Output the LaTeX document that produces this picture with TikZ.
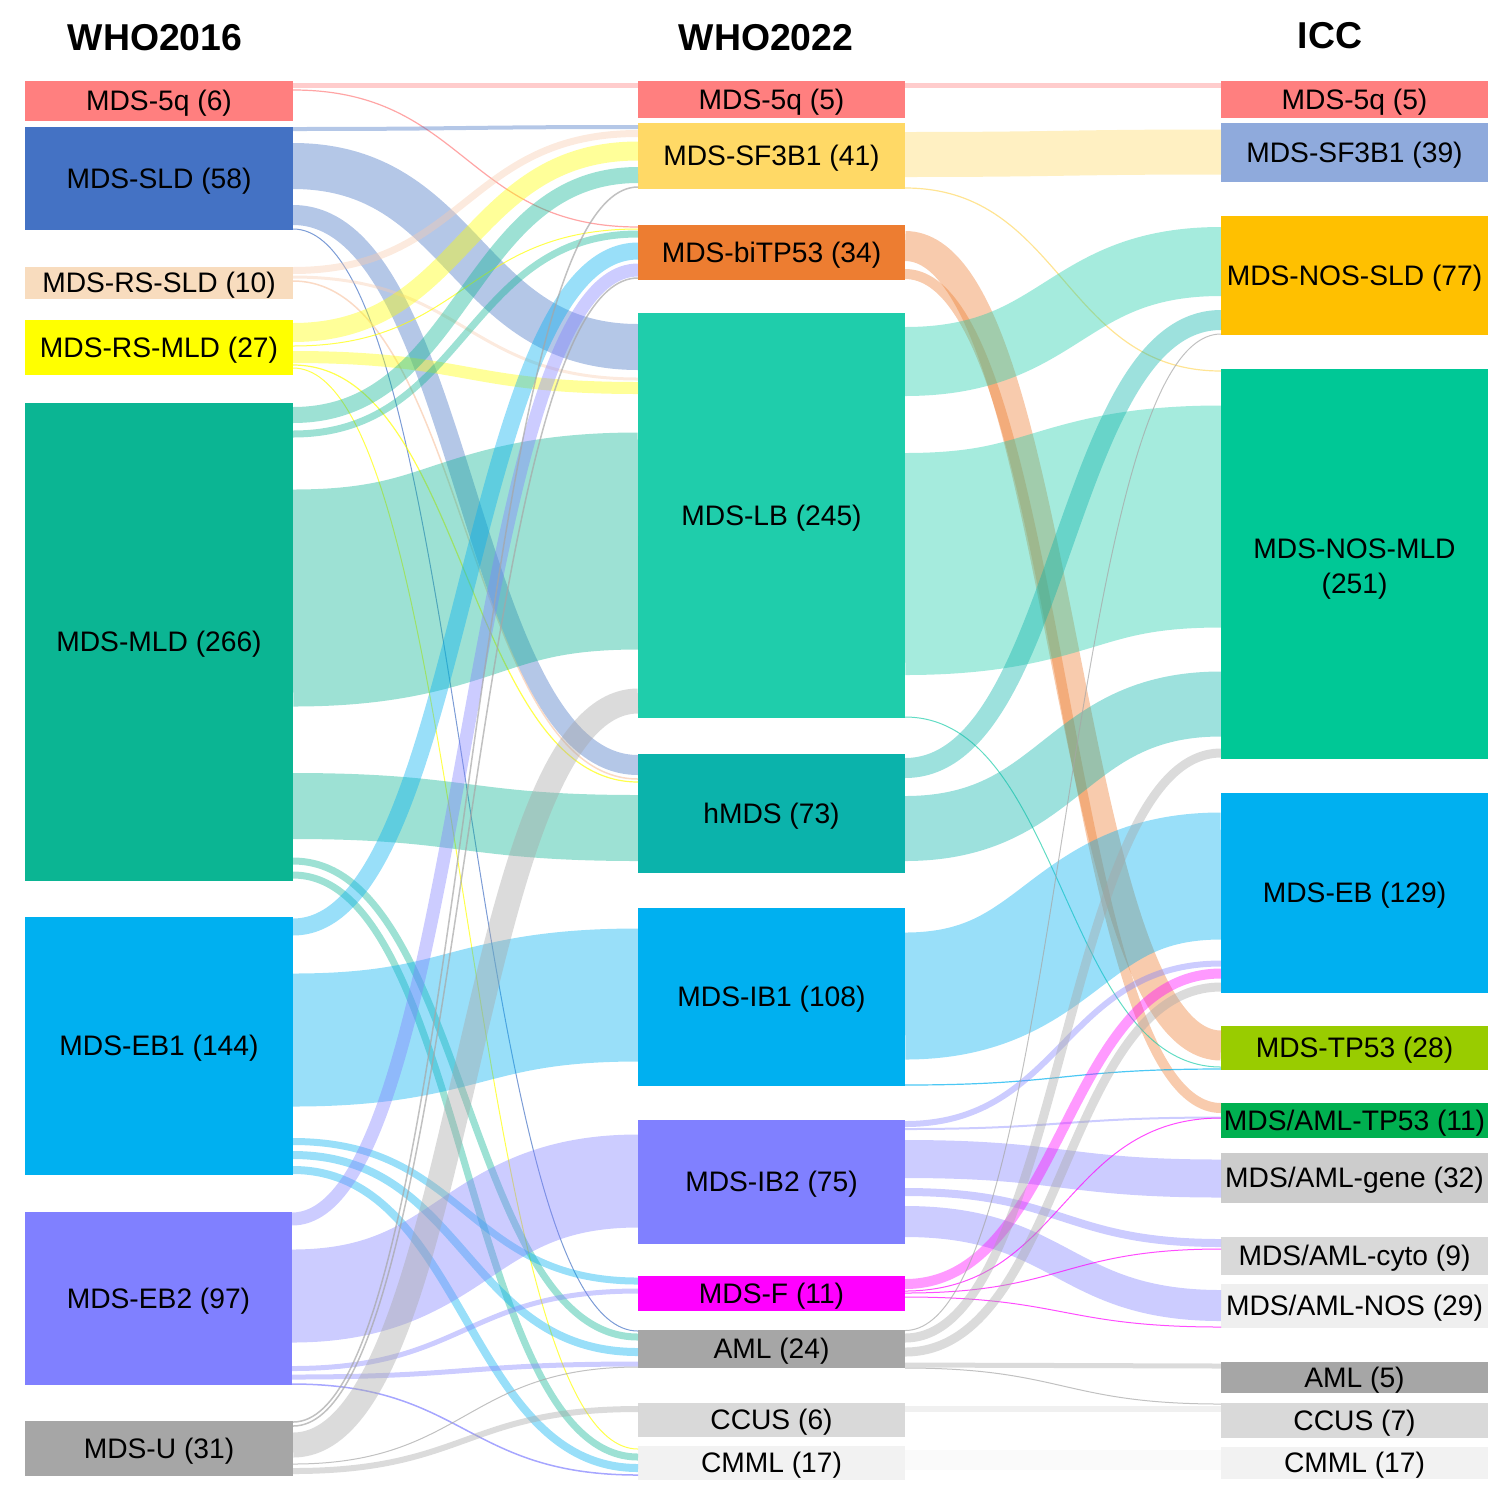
\documentclass[tikz,border=0pt]{standalone}
\usepackage{fontspec}
\setmainfont{Liberation Sans}
\usetikzlibrary{calc}
\definecolor{c5q}{HTML}{FF7F7F}
\definecolor{csld}{HTML}{4472C4}
\definecolor{crss}{HTML}{F8DCBE}
\definecolor{crssf}{HTML}{F8CBAD}
\definecolor{crsm}{HTML}{FFFF00}
\definecolor{cmld}{HTML}{0BB593}
\definecolor{ceb}{HTML}{00B0F0}
\definecolor{cebtwo}{HTML}{8080FF}
\definecolor{cgray}{HTML}{A6A6A6}
\definecolor{cmsf}{HTML}{FFD966}
\definecolor{cbi}{HTML}{ED7D31}
\definecolor{clb}{HTML}{1FCDAB}
\definecolor{ch}{HTML}{0BB3AB}
\definecolor{cf}{HTML}{FF00FF}
\definecolor{cccus}{HTML}{D9D9D9}
\definecolor{ccmml}{HTML}{F2F2F2}
\definecolor{crsf}{HTML}{8FAADC}
\definecolor{crsld}{HTML}{FFC000}
\definecolor{crmld}{HTML}{00C896}
\definecolor{crtp}{HTML}{99CC00}
\definecolor{cratp}{HTML}{00B050}
\definecolor{crgene}{HTML}{CCCCCC}
\definecolor{crcyto}{HTML}{D9D9D9}
\definecolor{crnos}{HTML}{EFEFEF}
\tikzset{
  skbox/.style={inner sep=0pt, outer sep=0pt, draw=none, text height=0.97em, text depth=0pt,
    font=\fontsize{14.1}{17.5}\selectfont},
  sklabel/.style={inner sep=0pt, outer sep=0pt, align=center, font=\fontsize{14.1}{17.5}\selectfont},
  flowline/.style={line cap=butt},
  sktitle/.style={inner sep=0pt, font=\fontsize{18.7}{22}\selectfont\bfseries}
}
\newcommand\skbox[7]{%
  \pgfmathsetmacro\skw{(#4-#2)*0.5}%
  \pgfmathsetmacro\skh{(#5-#3)*0.5}%
  \node[skbox, fill=#6, minimum width=\skw pt, minimum height=\skh pt] (#1) at ({(#2+#4)/2},{(#3+#5)/2}) {#7};%
}
\newcommand\skflow[6]{%
  \pgfmathsetmacro\skop{ifthenelse(#5<2,0.7,0.4)}%
  \path (0,#2) coordinate (fya);
  \path (0,#4) coordinate (fyb);
  \path (#1.east |- fya) coordinate (fs);
  \path (#3.west |- fyb) coordinate (ft);
  \path ($(fs)!0.5!(ft)$) coordinate (fm);
  \draw[flowline, draw=#6, draw opacity=\skop, line width=#5*0.5pt] (fs) .. controls (fm |- fs) and (fm |- ft) .. (ft);
}
\begin{document}
\begin{tikzpicture}[x=0.5pt, y=-0.5pt]
\useasboundingbox (0,0) rectangle (1507,1494);
% titles
\node[sktitle] (t16) at (155,38) {WHO2016};
\node[sktitle] (t22) at (766,38) {WHO2022};
\node[sktitle] (ticc) at (1330,36) {ICC};
% left column
\skbox{l5q}{25}{81}{293}{121}{c5q}{MDS-5q (6)}
\skbox{lsld}{25}{127}{293}{230}{csld}{MDS-SLD (58)}
\skbox{lrss}{25}{267}{293}{299}{crss}{MDS-RS-SLD (10)}
\skbox{lrsm}{25}{320}{293}{375}{crsm}{MDS-RS-MLD (27)}
\skbox{lmld}{25}{403}{293}{881}{cmld}{MDS-MLD (266)}
\skbox{leb1}{25}{917}{293}{1175}{ceb}{MDS-EB1 (144)}
\skbox{leb2}{25}{1212}{292}{1385}{cebtwo}{MDS-EB2 (97)}
\skbox{lu}{25}{1421}{293}{1476}{cgray}{MDS-U (31)}
% middle column
\skbox{m5q}{638}{81}{905}{118}{c5q}{MDS-5q (5)}
\skbox{msf}{638}{123}{905}{189}{cmsf}{MDS-SF3B1 (41)}
\skbox{mbi}{638}{225}{905}{280}{cbi}{MDS-biTP53 (34)}
\skbox{mlb}{638}{313}{905}{718}{clb}{MDS-LB (245)}
\skbox{mh}{638}{754}{905}{873}{ch}{hMDS (73)}
\skbox{mib1}{638}{908}{905}{1086}{ceb}{MDS-IB1 (108)}
\skbox{mib2}{638}{1120}{905}{1244}{cebtwo}{MDS-IB2 (75)}
\skbox{mf}{638}{1276}{905}{1311}{cf}{MDS-F (11)}
\skbox{maml}{638}{1330}{905}{1368}{cgray}{AML (24)}
\skbox{mccus}{638}{1403}{905}{1437}{cccus}{CCUS (6)}
\skbox{mcmml}{638}{1446}{905}{1480}{ccmml}{CMML (17)}
% right column
\skbox{r5q}{1221}{81}{1488}{118}{c5q}{MDS-5q (5)}
\skbox{rsf}{1221}{123}{1488}{182}{crsf}{MDS-SF3B1 (39)}
\skbox{rsld}{1221}{216}{1488}{335}{crsld}{MDS-NOS-SLD (77)}
\skbox{rmld}{1221}{369}{1488}{759}{crmld}{}
\node[sklabel] (rmldt) at (1354.5,569.5) {MDS-NOS-MLD\\(251)};
\skbox{reb}{1221}{793}{1488}{993}{ceb}{MDS-EB (129)}
\skbox{rtp}{1221}{1026}{1488}{1070}{crtp}{MDS-TP53 (28)}
\skbox{ratp}{1221}{1103}{1488}{1138}{cratp}{MDS/AML-TP53 (11)}
\skbox{rgene}{1221}{1153}{1488}{1203}{crgene}{MDS/AML-gene (32)}
\skbox{rcyto}{1221}{1237}{1488}{1275}{crcyto}{MDS/AML-cyto (9)}
\skbox{rnos}{1221}{1284}{1488}{1328}{crnos}{MDS/AML-NOS (29)}
\skbox{raml}{1221}{1362}{1488}{1393}{cgray}{AML (5)}
\skbox{rccus}{1221}{1403}{1488}{1438}{cccus}{CCUS (7)}
\skbox{rcmml}{1221}{1447}{1488}{1479}{ccmml}{CMML (17)}
% flows WHO2016 -> WHO2022
\skflow{l5q}{85.5}{m5q}{85.5}{5.5}{c5q}
\skflow{l5q}{90}{mbi}{227}{1.2}{c5q}
\skflow{lsld}{129}{msf}{127}{4}{csld}
\skflow{lsld}{166}{mlb}{347}{46}{csld}
\skflow{lsld}{215}{mh}{765}{20}{csld}
\skflow{lsld}{229}{maml}{1331}{1}{csld}
\skflow{lrss}{270.5}{msf}{133.5}{7}{crssf}
\skflow{lrss}{277}{mlb}{379}{3}{crssf}
\skflow{lrss}{281}{mh}{779}{1.5}{crssf}
\skflow{lrsm}{332.5}{msf}{151}{19}{crsm}
\skflow{lrsm}{346}{mbi}{229}{1}{crsm}
\skflow{lrsm}{357}{mlb}{388}{12}{crsm}
\skflow{lrsm}{365}{mh}{782}{1.2}{crsm}
\skflow{lrsm}{368}{mcmml}{1449}{1}{crsm}
\skflow{lmld}{415}{msf}{175}{16}{cmld}
\skflow{lmld}{434}{mbi}{234}{7}{cmld}
\skflow{lmld}{598}{mlb}{541}{217}{cmld}
\skflow{lmld}{806}{mh}{828}{66}{cmld}
\skflow{lmld}{861}{maml}{1337}{7}{cmld}
\skflow{lmld}{875}{mcmml}{1457}{7}{cmld}
\skflow{leb1}{927}{mbi}{251}{17}{ceb}
\skflow{leb1}{1040}{mib1}{995}{133}{ceb}
\skflow{leb1}{1141.5}{mf}{1281}{7}{ceb}
\skflow{leb1}{1155}{maml}{1352}{8}{ceb}
\skflow{leb1}{1170}{mcmml}{1468}{8}{ceb}
\skflow{leb2}{1219}{mbi}{270}{13}{cebtwo}
\skflow{leb2}{1296}{mib2}{1181}{93}{cebtwo}
\skflow{leb2}{1368.5}{mf}{1291}{5}{cebtwo}
\skflow{leb2}{1377}{maml}{1364}{5}{cebtwo}
\skflow{leb2}{1384}{mcmml}{1475}{1.5}{cebtwo}
\skflow{lu}{1422}{msf}{187}{1.5}{cgray}
\skflow{lu}{1426}{mbi}{278}{1.5}{cgray}
\skflow{lu}{1445}{mlb}{701}{25}{cgray}
\skflow{lu}{1464}{maml}{1367}{1}{cgray}
\skflow{lu}{1471}{mccus}{1409}{6}{cgray}
% flows WHO2022 -> ICC
\skflow{m5q}{85.5}{r5q}{85.5}{5}{c5q}
\skflow{msf}{154.5}{rsf}{152}{45}{cmsf}
\skflow{msf}{188}{rmld}{371}{1.2}{cmsf}
\skflow{mbi}{246}{rtp}{1045.5}{30}{cbi}
\skflow{mbi}{274}{ratp}{1108}{10}{cbi}
\skflow{mlb}{361.5}{rsld}{261.5}{69}{clb}
\skflow{mlb}{564}{rmld}{516.5}{222}{clb}
\skflow{mlb}{717}{rtp}{1067}{1}{clb}
\skflow{mh}{768}{rsld}{320}{20}{ch}
\skflow{mh}{828.5}{rmld}{704}{65}{ch}
\skflow{mib1}{996}{reb}{876}{127}{ceb}
\skflow{mib1}{1085}{rtp}{1069}{1.2}{ceb}
\skflow{mib2}{1124}{reb}{963.5}{6}{cebtwo}
\skflow{mib2}{1129}{ratp}{1117.5}{2}{cebtwo}
\skflow{mib2}{1159}{rgene}{1178.5}{38}{cebtwo}
\skflow{mib2}{1192}{rcyto}{1243}{8}{cebtwo}
\skflow{mib2}{1221.5}{rnos}{1305.5}{31}{cebtwo}
\skflow{mf}{1284}{reb}{973.5}{10}{cf}
\skflow{mf}{1291}{ratp}{1118}{1}{cf}
\skflow{mf}{1293}{rcyto}{1249}{1}{cf}
\skflow{mf}{1297}{rnos}{1327}{1}{cf}
\skflow{maml}{1330.5}{rsld}{334}{1}{cgray}
\skflow{maml}{1338}{rmld}{753}{9}{cgray}
\skflow{maml}{1352}{reb}{987}{9}{cgray}
\skflow{maml}{1365}{raml}{1366}{5}{cgray}
\skflow{maml}{1368}{rccus}{1404}{1}{cgray}
\skflow{mccus}{1409}{rccus}{1409}{6}{cccus}
\skflow{mcmml}{1460}{rcmml}{1460}{20}{ccmml}
\end{tikzpicture}
\end{document}
